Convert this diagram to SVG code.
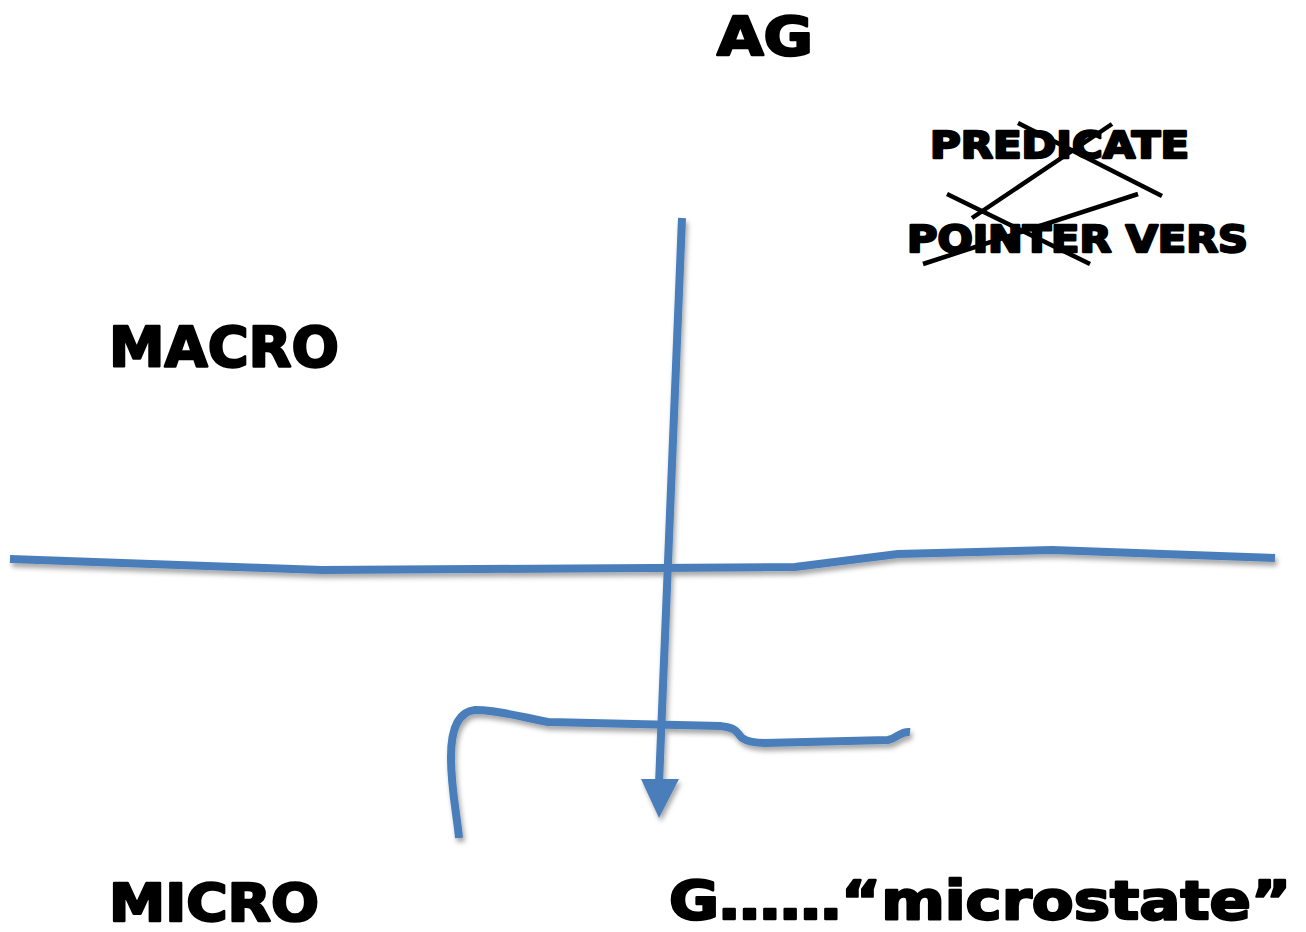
<svg xmlns="http://www.w3.org/2000/svg" width="1306" height="932" viewBox="0 0 1306 932">
  <style>
    .lbl { font-family: "DejaVu Sans", "Liberation Sans", Arial, sans-serif; font-weight: bold; fill: #000; stroke: #000; stroke-width: 2.4; stroke-linejoin: round; }
    .blue { fill: none; stroke: #4a7ebb; stroke-width: 8; stroke-linejoin: round; }
    .cross { stroke: #000; stroke-width: 4.5; fill: none; }
  </style>
  <defs>
    <filter id="shadow" x="-10%" y="-10%" width="120%" height="130%">
      <feDropShadow dx="2" dy="4" stdDeviation="2.5" flood-color="#000" flood-opacity="0.35"/>
    </filter>
  </defs>
  <rect width="1306" height="932" fill="#fff"/>

  <!-- labels -->
  <g id="ag"><text class="lbl" x="717" y="55" font-size="53" textLength="96" lengthAdjust="spacingAndGlyphs">AG</text></g>
  <g id="predicate"><text class="lbl" x="930" y="158" font-size="37" textLength="259" lengthAdjust="spacingAndGlyphs">PREDICATE</text></g>
  <g id="pointer-vers"><text class="lbl" x="907" y="252" font-size="37" textLength="341" lengthAdjust="spacingAndGlyphs">POINTER VERS</text></g>
  <g id="macro"><text class="lbl" x="109" y="366" font-size="56" textLength="230" lengthAdjust="spacingAndGlyphs">MACRO</text></g>
  <g id="micro"><text class="lbl" x="109" y="921" font-size="52" textLength="210" lengthAdjust="spacingAndGlyphs">MICRO</text></g>
  <g id="microstate"><text class="lbl" x="669" y="919" font-size="54" textLength="622" lengthAdjust="spacingAndGlyphs">G……“microstate”</text></g>

  <!-- strike-through marks -->
  <g id="strikes">
    <line class="cross" x1="1018" y1="123" x2="1162" y2="196"/>
    <line class="cross" x1="1112" y1="124" x2="972" y2="218"/>
    <line class="cross" x1="947" y1="194" x2="1090" y2="264"/>
    <line class="cross" x1="923" y1="264" x2="1138" y2="194"/>
  </g>

  <!-- connectors -->
  <g id="connectors" filter="url(#shadow)">
    <polyline class="blue" points="10,559 322,570 795,567 898,554 1052,550 1275,558"/>
    <path class="blue" d="M459,838 C457,815 451,790 451,757 C451,735 455,712 475,710 C500,710 525,718 548,722 L720,726 C738,728 736,732 742,738 C748,742 756,743 765,743 L888,740 C898,738 900,731 910,732"/>
    <line x1="682" y1="218" x2="659" y2="784" stroke="#4a7ebb" stroke-width="8"/>
    <polygon points="641,779 679,779 659,818" fill="#4a7ebb"/>
  </g>
</svg>
